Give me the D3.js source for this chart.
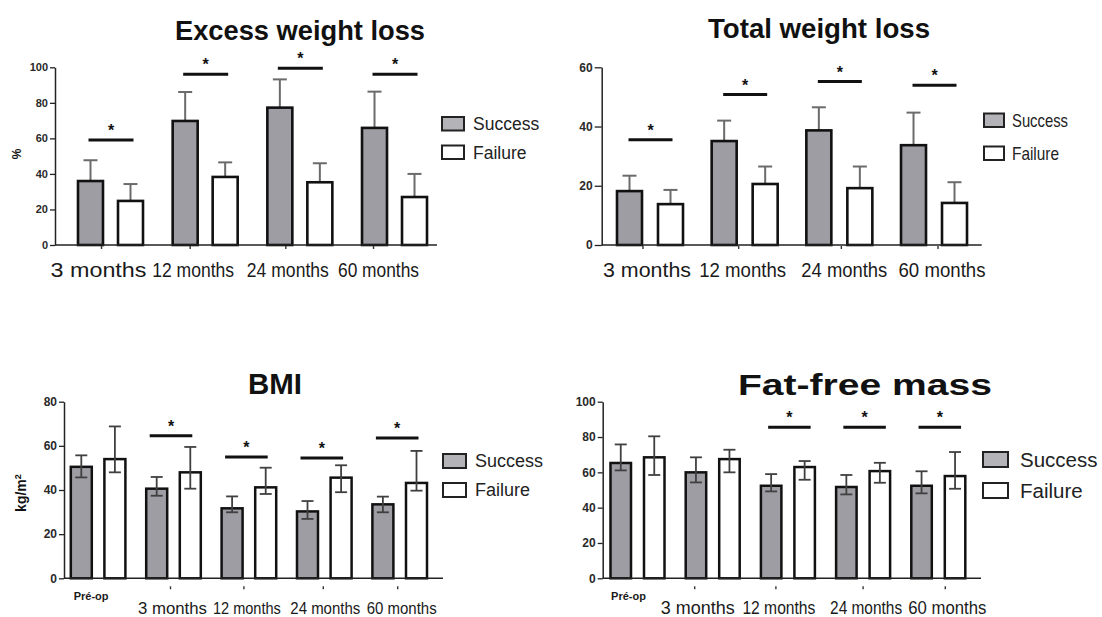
<!DOCTYPE html>
<html>
<head>
<meta charset="utf-8">
<script src="https://cdn.jsdelivr.net/npm/d3@7"></script>
<style>
  html, body { margin: 0; padding: 0; background: #fff; }
  svg { display: block; font-family: "Liberation Sans", Arial, sans-serif; }
</style>
</head>
<body>
<svg id="chart" width="1102" height="617"></svg>
<script>
// ---- Excess weight loss (%) ----
const ewlCategories = ["3 months", "12 months", "24 months", "60 months"];
const ewlSuccess   = [36.0, 69.8, 77.3, 65.9];
const ewlSuccessSD = [11.7, 16.3, 15.9, 20.4];
const ewlFailure   = [24.8, 38.3, 35.3, 27.0];
const ewlFailureSD = [9.5, 8.2, 10.7, 13.0];
const ewlSignificance = [59.1, 96.1, 99.4, 96.1];
const ewlTicks = [0, 20, 40, 60, 80, 100];

// ---- Total weight loss (%) ----
const twlCategories = ["3 months", "12 months", "24 months", "60 months"];
const twlSuccess   = [18.2, 35.1, 38.7, 33.7];
const twlSuccessSD = [5.2, 6.9, 7.8, 11.0];
const twlFailure   = [13.8, 20.6, 19.2, 14.2];
const twlFailureSD = [4.8, 5.9, 7.3, 7.0];
const twlSignificance = [35.5, 50.8, 55.2, 53.9];
const twlTicks = [0, 20, 40, 60];

// ---- BMI (kg/m²) ----
const bmiCategories = ["Pré-op", "3 months", "12 months", "24 months", "60 months"];
const bmiSuccess     = [50.5, 40.6, 31.7, 30.3, 33.5];
const bmiSuccessLow  = [45.7, 37.4, 29.9, 26.9, 29.9];
const bmiSuccessHigh = [55.7, 45.9, 37.1, 35.0, 37.0];
const bmiFailure     = [54.0, 48.0, 41.2, 45.6, 43.2];
const bmiFailureLow  = [48.0, 40.6, 38.2, 39.0, 39.7];
const bmiFailureHigh = [68.8, 59.5, 50.1, 51.2, 57.7];
const bmiSignificance = [null, 64.6, 54.9, 54.5, 63.5];
const bmiTicks = [0, 20, 40, 60, 80];

// ---- Fat-free mass ----
const ffmCategories = ["Pré-op", "3 months", "12 months", "24 months", "60 months"];
const ffmSuccess     = [65.3, 60.0, 52.4, 51.7, 52.4];
const ffmSuccessLow  = [61.1, 54.3, 49.2, 47.5, 48.1];
const ffmSuccessHigh = [75.8, 68.5, 59.0, 58.5, 60.6];
const ffmFailure     = [68.5, 67.5, 63.0, 60.7, 57.9];
const ffmFailureLow  = [58.5, 60.0, 55.8, 54.1, 50.7];
const ffmFailureHigh = [80.4, 72.8, 66.4, 65.4, 71.5];
const ffmSignificance = [null, null, 85.5, 85.5, 85.5];
const ffmTicks = [0, 20, 40, 60, 80, 100];

const groups = ["Success", "Failure"];
const fills = { Success: "#9d9da3", Failure: "#ffffff" };

const svg = d3.select("#chart");

function panel(cfg) {
  const g = svg.append("g");
  const n = cfg.categories.length;
  const x = d3.scaleBand()
    .domain(cfg.categories)
    .range([cfg.bandStart, cfg.bandStart + cfg.step * (n - 1) + cfg.groupWidth])
    .paddingInner(1 - cfg.groupWidth / cfg.step)
    .paddingOuter(0);
  const xs = d3.scaleBand()
    .domain(groups)
    .range([0, x.bandwidth()])
    .paddingInner(1 - cfg.barWidth / (cfg.groupWidth - cfg.barWidth))
    .paddingOuter(0);
  const y = d3.scaleLinear().domain(cfg.domain).range([cfg.yBase, cfg.yTop]);

  // one row per bar
  const rows = [];
  cfg.categories.forEach((c, i) => {
    groups.forEach(k => {
      const s = cfg.series[k];
      rows.push({
        cat: c, key: k, value: s.value[i],
        lo: s.lo ? s.lo[i] : null,
        hi: s.hi ? s.hi[i] : s.value[i] + s.sd[i]
      });
    });
  });
  const cx = d => x(d.cat) + xs(d.key) + xs.bandwidth() / 2;

  // upward-only error bars sit behind the bars
  if (!cfg.twoSided) {
    const eb = g.append("g").attr("stroke", cfg.errColor).attr("stroke-width", 2);
    eb.selectAll("line.v").data(rows).join("line")
      .attr("x1", cx).attr("x2", cx)
      .attr("y1", d => y(d.value)).attr("y2", d => y(d.hi));
    eb.selectAll("line.c").data(rows).join("line")
      .attr("x1", d => cx(d) - cfg.cap / 2).attr("x2", d => cx(d) + cfg.cap / 2)
      .attr("y1", d => y(d.hi)).attr("y2", d => y(d.hi));
  }

  // bars
  g.append("g").selectAll("rect").data(rows).join("rect")
    .attr("x", d => x(d.cat) + xs(d.key))
    .attr("width", xs.bandwidth())
    .attr("y", d => y(d.value))
    .attr("height", d => y(0) - y(d.value))
    .attr("fill", d => fills[d.key])
    .attr("stroke", "#111")
    .attr("stroke-width", cfg.barStroke);

  // two-sided whiskers drawn over the bars
  if (cfg.twoSided) {
    const eb = g.append("g").attr("stroke", cfg.errColor).attr("stroke-width", 1.8);
    eb.selectAll("line.v").data(rows).join("line")
      .attr("x1", cx).attr("x2", cx)
      .attr("y1", d => y(d.lo)).attr("y2", d => y(d.hi));
    eb.selectAll("line.t").data(rows).join("line")
      .attr("x1", d => cx(d) - cfg.cap / 2).attr("x2", d => cx(d) + cfg.cap / 2)
      .attr("y1", d => y(d.hi)).attr("y2", d => y(d.hi));
    eb.selectAll("line.b").data(rows).join("line")
      .attr("x1", d => cx(d) - cfg.cap / 2).attr("x2", d => cx(d) + cfg.cap / 2)
      .attr("y1", d => y(d.lo)).attr("y2", d => y(d.lo));
  }

  // y axis
  const ya = g.append("g")
    .attr("transform", `translate(${cfg.x0},0)`)
    .call(d3.axisLeft(y).tickValues(cfg.ticks).tickSize(cfg.tickSize).tickSizeOuter(0).tickPadding(2));
  ya.select(".domain").attr("stroke", "#222").attr("stroke-width", 1.5);
  ya.selectAll(".tick line").attr("stroke", "#222").attr("stroke-width", 1.3);
  ya.selectAll(".tick text")
    .attr("fill", "#2a2a2a")
    .style("font-size", cfg.tickFont + "px")
    .style("font-weight", "bold")
    .style("font-family", '"Liberation Sans", Arial, sans-serif');

  // x baseline
  g.append("line")
    .attr("x1", cfg.x0).attr("x2", cfg.x1)
    .attr("y1", cfg.yBase).attr("y2", cfg.yBase)
    .attr("stroke", "#222").attr("stroke-width", 1.5);

  // category labels & small ticks
  const center = c => x(c) + x.bandwidth() / 2;
  const offsetCount = cfg.categories.length - cfg.labelWidth.length;
  cfg.categories.forEach((c, i) => {
    const isPre = c === "Pré-op";
    const j = i - offsetCount;
    const tickX = center(c) + (isPre ? 0 : cfg.tickShift[j]);
    const lx = center(c) + (isPre ? cfg.preOffset : cfg.labelShift[j]);
    if (!isPre) {
      g.append("line")
        .attr("x1", tickX).attr("x2", tickX)
        .attr("y1", cfg.yBase + cfg.tickGap).attr("y2", cfg.yBase + cfg.tickGap + 3)
        .attr("stroke", "#333").attr("stroke-width", 1.4);
    }
    const t = g.append("text")
      .attr("x", lx)
      .attr("y", isPre ? cfg.preY : cfg.labelY)
      .attr("text-anchor", "middle")
      .attr("fill", "#1a1a1a")
      .style("font-size", (isPre ? 11 : cfg.labelFont) + "px")
      .style("font-weight", isPre ? "bold" : "normal")
      .text(c);
    if (!isPre) {
      t.attr("textLength", cfg.labelWidth[j]).attr("lengthAdjust", "spacingAndGlyphs");
    }
  });

  // significance brackets
  cfg.significance.forEach((v, i) => {
    if (v == null) return;
    const c = cfg.categories[i];
    const xa = x(c) + xs("Success") + xs.bandwidth() / 2 + cfg.sigPad[0];
    const xb = x(c) + xs("Failure") + xs.bandwidth() / 2 + cfg.sigPad[1];
    g.append("line")
      .attr("x1", xa).attr("x2", xb)
      .attr("y1", y(v)).attr("y2", y(v))
      .attr("stroke", "#111").attr("stroke-width", 3);
    g.append("text")
      .attr("x", (xa + xb) / 2).attr("y", y(v) - 4)
      .attr("text-anchor", "middle")
      .style("font-size", "16px").style("font-weight", "bold")
      .attr("fill", "#111")
      .text("*");
  });

  // title
  g.append("text")
    .attr("x", cfg.titleX).attr("y", cfg.titleY)
    .attr("text-anchor", "middle")
    .attr("textLength", cfg.titleWidth)
    .attr("lengthAdjust", "spacingAndGlyphs")
    .style("font-size", cfg.titleFont + "px")
    .style("font-weight", "bold")
    .attr("fill", "#111")
    .text(cfg.title);

  // y-axis title
  if (cfg.yTitle) {
    const yt = g.append("text")
      .attr("transform", `translate(${cfg.yTitle.x},${cfg.yTitle.y}) rotate(-90)`)
      .attr("text-anchor", "middle")
      .style("font-size", cfg.yTitle.size + "px")
      .style("font-weight", "bold")
      .attr("fill", "#111");
    yt.append("tspan").text(cfg.yTitle.text);
    if (cfg.yTitle.sup) {
      yt.append("tspan").attr("dy", -5).style("font-size", (cfg.yTitle.size * 0.65) + "px").text(cfg.yTitle.sup);
    }
  }

  // legend
  const L = cfg.legend;
  groups.forEach((k, i) => {
    g.append("rect")
      .attr("x", L.x).attr("y", L.y + i * L.gap)
      .attr("width", L.w).attr("height", L.h)
      .attr("fill", k === "Success" ? "#b4b4b8" : "#fff")
      .attr("stroke", "#222").attr("stroke-width", 2);
    const t = g.append("text")
      .attr("x", L.tx).attr("y", L.y + i * L.gap + L.h / 2 + L.font * 0.36)
      .style("font-size", L.font + "px")
      .attr("fill", "#222")
      .text(k);
    if (L.textLength) {
      t.attr("textLength", L.textLength[i]).attr("lengthAdjust", "spacingAndGlyphs");
    }
  });
}

panel({
  title: "Excess weight loss", titleX: 300, titleY: 40, titleFont: 27, titleWidth: 250,
  categories: ewlCategories,
  series: {
    Success: { value: ewlSuccess, sd: ewlSuccessSD },
    Failure: { value: ewlFailure, sd: ewlFailureSD }
  },
  significance: ewlSignificance, sigPad: [-2, 3],
  domain: [0, 100], ticks: ewlTicks, tickSize: 5, tickFont: 11,
  x0: 55, x1: 437, yTop: 67.3, yBase: 245,
  bandStart: 78, step: 94.67, groupWidth: 65, barWidth: 25, barStroke: 2.6,
  twoSided: false, cap: 14, errColor: "#6b6b6b",
  labelY: 277, labelFont: 21, labelWidth: [96, 82, 82, 81],
  labelShift: [-12, -12, -12, -16], tickShift: [-9, -15, -14, -21], tickGap: 1,
  yTitle: { text: "%", x: 21, y: 154, size: 12 },
  legend: { x: 442, y: 117, w: 22, h: 13.5, gap: 28.5, tx: 473, font: 17.5 }
});

panel({
  title: "Total weight loss", titleX: 819, titleY: 38, titleFont: 27, titleWidth: 222,
  categories: twlCategories,
  series: {
    Success: { value: twlSuccess, sd: twlSuccessSD },
    Failure: { value: twlFailure, sd: twlFailureSD }
  },
  significance: twlSignificance, sigPad: [-1, 2],
  domain: [0, 60], ticks: twlTicks, tickSize: 7, tickFont: 12,
  x0: 601.7, x1: 981.7, yTop: 67.3, yBase: 245,
  bandStart: 617, step: 94.67, groupWidth: 66, barWidth: 25, barStroke: 2.6,
  twoSided: false, cap: 14, errColor: "#6b6b6b",
  labelY: 277, labelFont: 21, labelWidth: [88, 87, 86, 87],
  labelShift: [-3, -2, 5, 8], tickShift: [-7, -6, 2, 4], tickGap: 1,
  legend: { x: 984, y: 113.5, w: 20, h: 13.5, gap: 33, tx: 1012, font: 19, textLength: [56, 47] }
});

panel({
  title: "BMI", titleX: 275, titleY: 394, titleFont: 29, titleWidth: 54,
  categories: bmiCategories,
  series: {
    Success: { value: bmiSuccess, lo: bmiSuccessLow, hi: bmiSuccessHigh },
    Failure: { value: bmiFailure, lo: bmiFailureLow, hi: bmiFailureHigh }
  },
  significance: bmiSignificance, sigPad: [-7, 2],
  domain: [0, 80], ticks: bmiTicks, tickSize: 5, tickFont: 12,
  x0: 64, x1: 443, yTop: 401.7, yBase: 578.3,
  bandStart: 70.8, step: 75.4, groupWidth: 54.6, barWidth: 21, barStroke: 2.5,
  twoSided: true, cap: 12, errColor: "#404040",
  labelY: 614, labelFont: 17, labelWidth: [69, 68, 70, 70],
  labelShift: [-1, -2, 1, 2], tickShift: [-3, -5, -1, -2], tickGap: 8,
  preOffset: -7, preY: 600,
  yTitle: { text: "kg/m", sup: "2", x: 26, y: 493, size: 14 },
  legend: { x: 443, y: 454, w: 23, h: 14, gap: 29, tx: 475, font: 18 }
});

panel({
  title: "Fat-free mass", titleX: 865, titleY: 395, titleFont: 30, titleWidth: 254,
  categories: ffmCategories,
  series: {
    Success: { value: ffmSuccess, lo: ffmSuccessLow, hi: ffmSuccessHigh },
    Failure: { value: ffmFailure, lo: ffmFailureLow, hi: ffmFailureHigh }
  },
  significance: ffmSignificance, sigPad: [-3, 6],
  domain: [0, 100], ticks: ffmTicks, tickSize: 5, tickFont: 12,
  x0: 602.7, x1: 981, yTop: 401.7, yBase: 578.3,
  bandStart: 610.5, step: 75.2, groupWidth: 54, barWidth: 20.5, barStroke: 2.5,
  twoSided: true, cap: 12, errColor: "#404040",
  labelY: 614, labelFont: 18, labelWidth: [74, 73, 72, 78],
  labelShift: [-15, -9, 3, 9], tickShift: [-18, -12, 0, 7], tickGap: 8,
  preOffset: -9, preY: 600,
  legend: { x: 983, y: 452, w: 25, h: 15, gap: 31, tx: 1020, font: 20.5 }
});
</script>
</body>
</html>
